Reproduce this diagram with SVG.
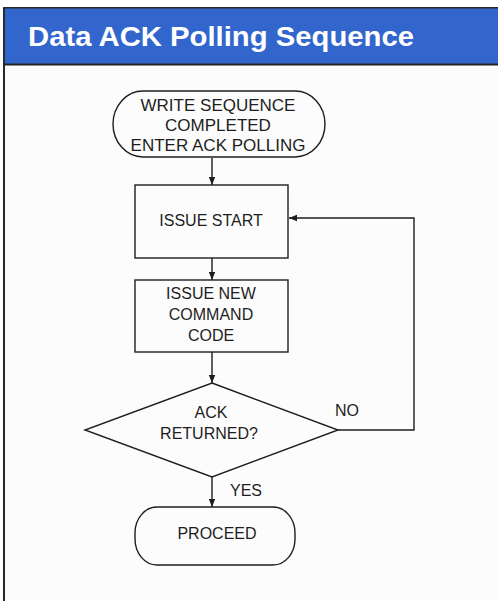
<svg xmlns="http://www.w3.org/2000/svg" width="498" height="601" viewBox="0 0 498 601">
<style>
.shape{fill:none;stroke:#1e1e1e;stroke-width:1.4}
.lbl{font-family:"Liberation Sans",Arial,sans-serif;font-size:16px;fill:#1e1e1e;text-anchor:middle}
.big{font-size:17px}
.conn{fill:none;stroke:#1e1e1e;stroke-width:1.4}
.title{font-family:"Liberation Sans",Arial,sans-serif;font-weight:bold;font-size:28px;fill:#ffffff}
</style>
<defs>
<marker id="ah" markerUnits="userSpaceOnUse" markerWidth="10" markerHeight="10" viewBox="0 0 10 10" refX="9" refY="5" orient="auto">
<path d="M1 1.8 L9 5 L1 8.2 Z" fill="#1e1e1e"/>
</marker>
</defs>
<rect x="0" y="0" width="498" height="601" fill="#ffffff"/>
<g id="frame">
<rect x="4" y="8" width="500" height="600" fill="#fcfcfc" stroke="#111" stroke-width="1.8"/>
<rect x="4.9" y="8.5" width="494" height="55.5" fill="#3366cc"/>
<line x1="4" y1="64.5" x2="498" y2="64.5" stroke="#222" stroke-width="2"/>
<text class="title" x="28" y="46" textLength="386" lengthAdjust="spacingAndGlyphs">Data ACK Polling Sequence</text>
</g>
<g id="connectors">
<path class="conn" d="M212 158 L212 185" marker-end="url(#ah)"/>
<path class="conn" d="M212 258 L212 280" marker-end="url(#ah)"/>
<path class="conn" d="M212 352 L212 383" marker-end="url(#ah)"/>
<path class="conn" d="M338 430 L414 430 L414 218 L289 218" marker-end="url(#ah)"/>
<path class="conn" d="M212 477 L212 507" marker-end="url(#ah)"/>
<text class="lbl" x="347" y="416">NO</text>
<text class="lbl" x="246" y="496">YES</text>
</g>
<g id="start">
<rect class="shape" x="113" y="91" width="212" height="66" rx="30" ry="33"/>
<text class="lbl big" x="218" y="111">WRITE SEQUENCE</text>
<text class="lbl big" x="218" y="131">COMPLETED</text>
<text class="lbl big" x="218" y="151">ENTER ACK POLLING</text>
</g>
<g id="issue-start">
<rect class="shape" x="135" y="185" width="153" height="73"/>
<text class="lbl" x="211" y="226">ISSUE START</text>
</g>
<g id="issue-cmd">
<rect class="shape" x="135" y="280" width="153" height="72"/>
<text class="lbl" x="211" y="299">ISSUE NEW</text>
<text class="lbl" x="211" y="320">COMMAND</text>
<text class="lbl" x="211" y="341">CODE</text>
</g>
<g id="decision">
<path class="shape" d="M212 383 L338 430 L212 477 L85 430 Z"/>
<text class="lbl" x="211" y="418">ACK</text>
<text class="lbl" x="209" y="439">RETURNED?</text>
</g>
<g id="proceed">
<rect class="shape" x="135" y="507" width="160" height="58" rx="22" ry="26"/>
<text class="lbl" x="217" y="539">PROCEED</text>
</g>
</svg>
